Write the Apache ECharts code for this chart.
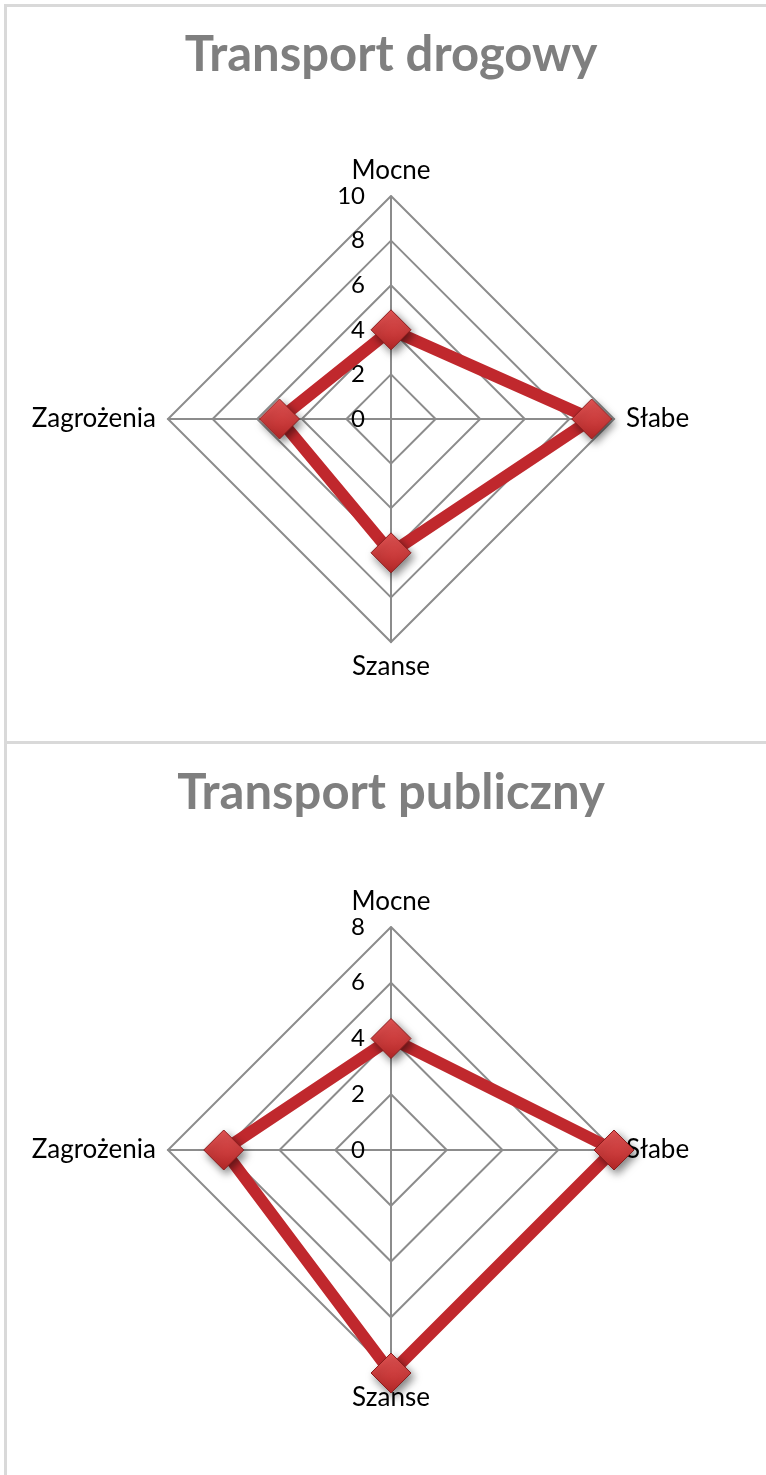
<!DOCTYPE html>
<html>
<head>
<meta charset="utf-8">
<script src="https://cdn.jsdelivr.net/npm/echarts@6/dist/echarts.min.js"></script>
<style>
  html, body { margin: 0; padding: 0; background: #fff; overflow: hidden; }
  body { width: 766px; height: 1475px; position: relative; }
  .chart { position: absolute; left: 8px; width: 766px; }
  .line { position: absolute; background: #d9d9d9; }
</style>
</head>
<body>
<div class="line" style="left:4px;top:4px;width:762px;height:3px"></div>
<div class="line" style="left:4px;top:4px;width:3px;height:1471px"></div>
<div class="line" style="left:4px;top:741px;width:762px;height:3px"></div>
<div id="box1" class="chart" style="top:0;height:741px"></div>
<div id="box2" class="chart" style="top:744px;height:731px"></div>
<script>
// kategorie w kolejnosci ECharts (od gory, przeciwnie do ruchu wskazowek)
var categories = ['Mocne', 'Zagrożenia', 'Szanse', 'Słabe']

// Transport drogowy
var drogowyValues = [4, 5, 6, 9]
var drogowyMax = 10
var drogowySplit = 5

// Transport publiczny
var publicznyValues = [4, 6, 8, 8]
var publicznyMax = 8
var publicznySplit = 4

var fontName = 'Lato'

function buildOption(title, values, max, split, center, titleTop) {
    return {
        title: {
            text: title,
            left: 'center',
            top: titleTop,
            textStyle: {
                color: '#7f7f7f',
                fontSize: 49,
                fontWeight: 'bold',
                fontFamily: fontName
            }
        },
        radar: {
            center: center,
            radius: 223,
            startAngle: 90,
            shape: 'polygon',
            splitNumber: split,
            nameGap: 12,
            axisName: {
                color: '#000',
                fontSize: 26,
                fontFamily: fontName
            },
            splitArea: { show: false },
            splitLine: { lineStyle: { color: '#8c8c8c', width: 2 } },
            axisLine: { lineStyle: { color: '#8c8c8c', width: 2 } },
            axisTick: { show: false },
            axisLabel: { show: false },
            indicator: categories.map(function (name, i) {
                var ind = { name: name, min: 0, max: max }
                // tylko pierwsza os ma podpisy
                if (i === 0) {
                    ind.axisLabel = {
                        show: true,
                        margin: 26,
                        color: '#000',
                        fontSize: 24,
                        fontFamily: fontName
                    }
                }
                return ind
            })
        },
        series: [
            {
                type: 'radar',
                symbol: 'diamond',
                symbolSize: 40,
                lineStyle: { color: '#c0282d', width: 12 },
                itemStyle: {
                    color: new echarts.graphic.LinearGradient(0, 0, 0, 1, [
                        { offset: 0, color: '#e45555' },
                        { offset: 1, color: '#b52727' }
                    ]),
                    borderColor: '#8a1c1c',
                    borderWidth: 1,
                    shadowColor: 'rgba(0,0,0,0.5)',
                    shadowBlur: 8,
                    shadowOffsetX: 3,
                    shadowOffsetY: 4
                },
                data: [{ value: values, name: title }]
            }
        ]
    }
}

var MyEcharts1 = echarts.init(document.getElementById('box1'))
MyEcharts1.setOption(buildOption('Transport drogowy', drogowyValues, drogowyMax, drogowySplit, [383, 419], 26))

var MyEcharts2 = echarts.init(document.getElementById('box2'))
MyEcharts2.setOption(buildOption('Transport publiczny', publicznyValues, publicznyMax, publicznySplit, [383, 406], 20))
</script>
</body>
</html>
